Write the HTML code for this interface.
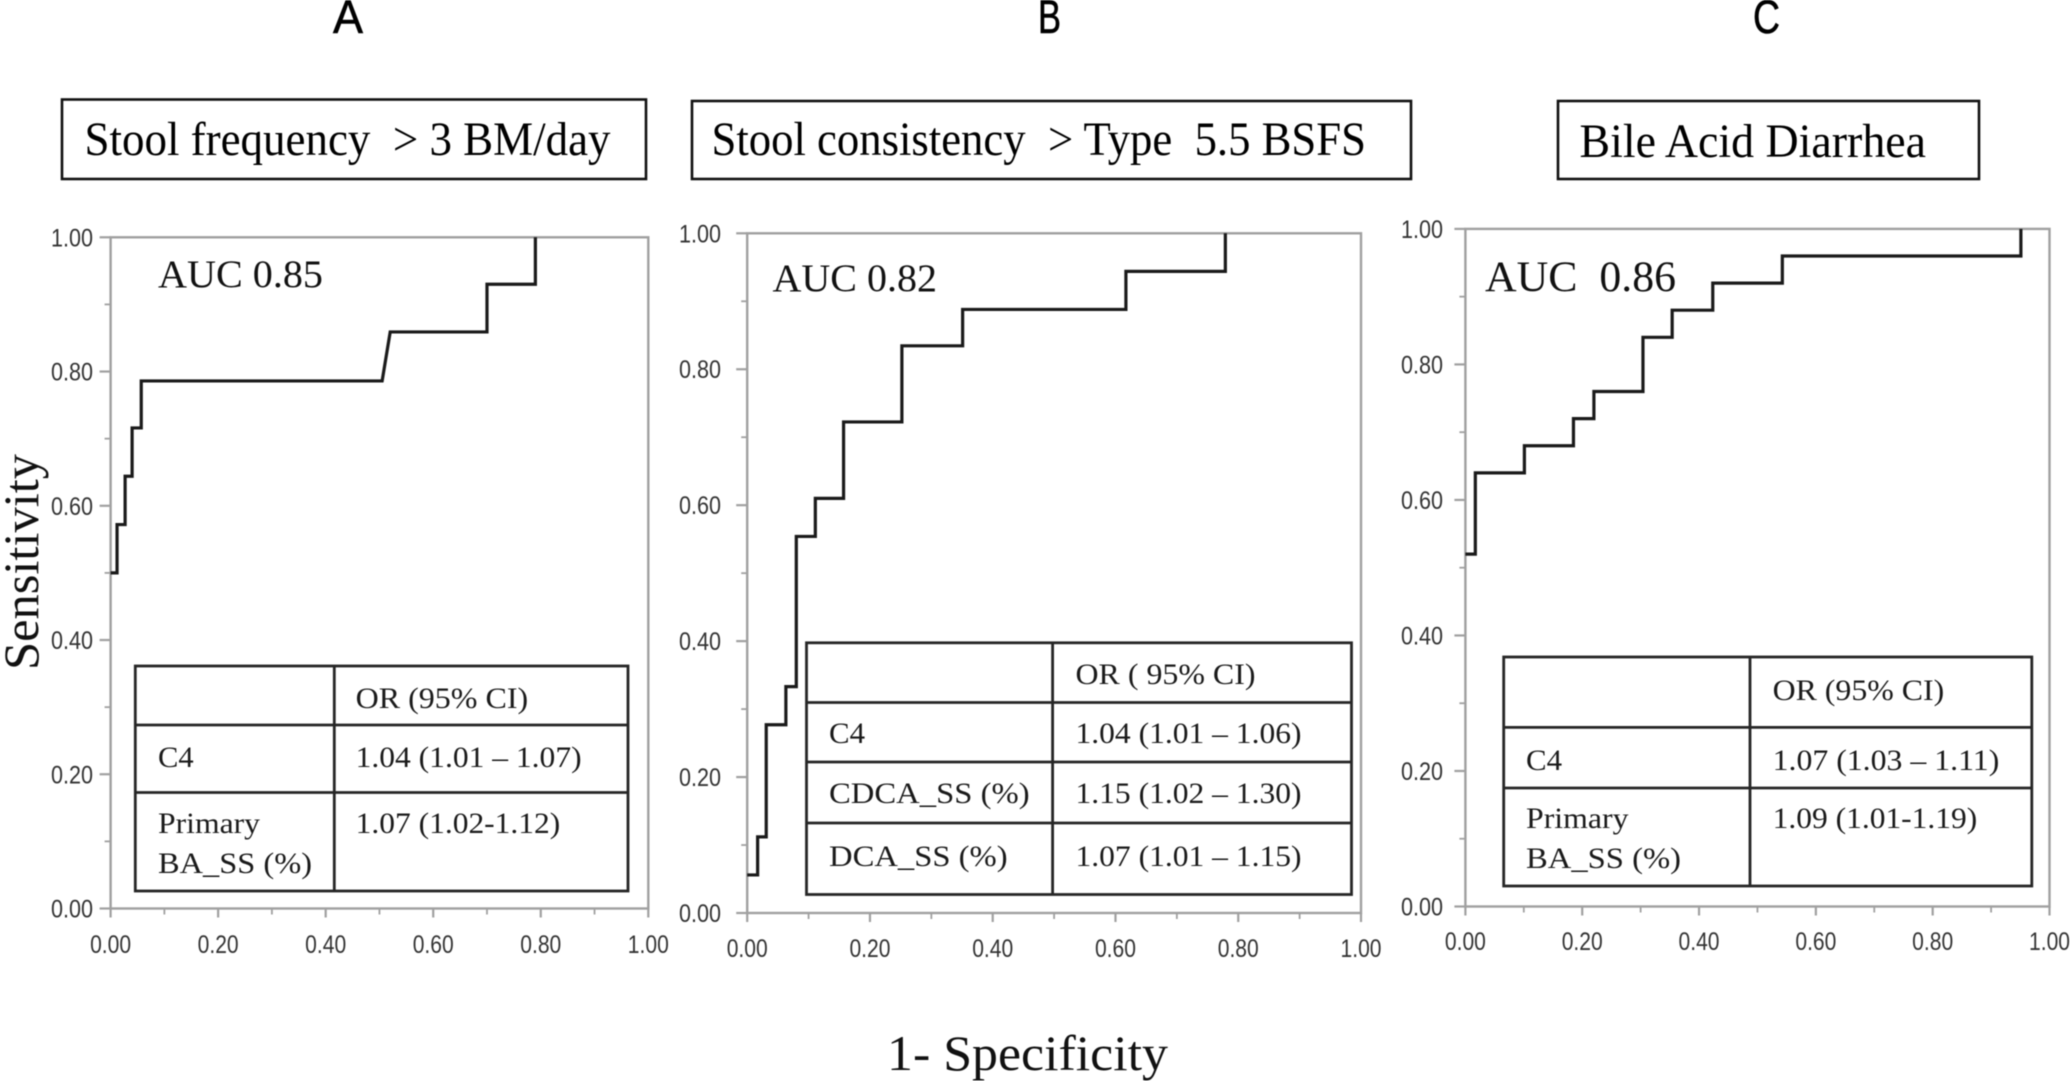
<!DOCTYPE html>
<html lang="en">
<head>
<meta charset="utf-8">
<title>ROC curves</title>
<style>
html,body{margin:0;padding:0;background:#fff;width:2070px;height:1081px;overflow:hidden}
svg{display:block;filter:blur(0.55px)}
text{white-space:pre}
.serif{font-family:"Liberation Serif",serif;fill:#111}
.sans{font-family:"Liberation Sans",sans-serif}
.cell{font-size:30px;fill:#1a1a1a}
.auc{font-size:39px}
.hdr{font-size:48px;fill:#000}
.letter{font-size:47px;fill:#000;stroke:#000;stroke-width:.6}
.tbl{fill:none;stroke:#262626;stroke-width:2.8}
.box{fill:#fff;stroke:#111;stroke-width:2.6}
</style>
</head>
<body>
<svg id="figure" xmlns="http://www.w3.org/2000/svg" width="2070" height="1081" viewBox="0 0 2070 1081">
  <rect width="2070" height="1081" fill="#fff"/>

  <text class="sans letter" x="333" y="33" textLength="30" lengthAdjust="spacingAndGlyphs">A</text>
  <text class="sans letter" x="1038" y="33" textLength="23" lengthAdjust="spacingAndGlyphs">B</text>
  <text class="sans letter" x="1753" y="33" textLength="27" lengthAdjust="spacingAndGlyphs">C</text>

  <g>
    <rect class="box" x="62" y="99.5" width="584" height="79.5"/>
    <text class="serif hdr" x="84.5" y="155" textLength="526" lengthAdjust="spacingAndGlyphs">Stool frequency  &gt; 3 BM/day</text>
  </g>
  <g>
    <rect class="box" x="692" y="101" width="719" height="78"/>
    <text class="serif hdr" x="711.5" y="155" textLength="654.5" lengthAdjust="spacingAndGlyphs">Stool consistency  &gt; Type  5.5 BSFS</text>
  </g>
  <g>
    <rect class="box" x="1558" y="101" width="421" height="78"/>
    <text class="serif hdr" x="1579.5" y="157" textLength="346.5" lengthAdjust="spacingAndGlyphs">Bile Acid Diarrhea</text>
  </g>

  <text class="serif" font-size="50" transform="translate(38,670) rotate(-90)" textLength="216" lengthAdjust="spacingAndGlyphs">Sensitivity</text>
  <text class="serif" font-size="50" x="887" y="1070" textLength="281" lengthAdjust="spacingAndGlyphs">1- Specificity</text>

  <g id="plots"></g>

  <g>
    <text class="serif auc" x="158" y="287" textLength="165" lengthAdjust="spacingAndGlyphs">AUC 0.85</text>
    <text class="serif auc" x="772.5" y="291" textLength="164.5" lengthAdjust="spacingAndGlyphs">AUC 0.82</text>
    <text class="serif auc" style="font-size:43px" x="1485" y="291" textLength="191" lengthAdjust="spacingAndGlyphs">AUC  0.86</text>
  </g>

  <g>
    <rect class="tbl" x="135.3" y="666" width="492.7" height="225" style="fill:#fff"/>
    <path class="tbl" d="M135.3 725H628M135.3 792.5H628M334.3 666V891"/>
    <text class="serif cell" x="355.6" y="708" textLength="172.6" lengthAdjust="spacingAndGlyphs">OR (95% CI)</text>
    <text class="serif cell" x="158" y="767" textLength="35.6" lengthAdjust="spacingAndGlyphs">C4</text>
    <text class="serif cell" x="355.6" y="767" textLength="226" lengthAdjust="spacingAndGlyphs">1.04 (1.01 – 1.07)</text>
    <text class="serif cell" x="158" y="833" textLength="102" lengthAdjust="spacingAndGlyphs">Primary</text>
    <text class="serif cell" x="158" y="873" textLength="154" lengthAdjust="spacingAndGlyphs">BA_SS (%)</text>
    <text class="serif cell" x="355.6" y="833" textLength="204.7" lengthAdjust="spacingAndGlyphs">1.07 (1.02-1.12)</text>
  </g>

  <g>
    <rect class="tbl" x="806.5" y="642.8" width="545" height="251.7" style="fill:#fff"/>
    <path class="tbl" d="M806.5 702.5H1351.5M806.5 762H1351.5M806.5 823H1351.5M1052.6 642.8V894.5"/>
    <text class="serif cell" x="1075.5" y="684" textLength="180" lengthAdjust="spacingAndGlyphs">OR ( 95% CI)</text>
    <text class="serif cell" x="829" y="743" textLength="36" lengthAdjust="spacingAndGlyphs">C4</text>
    <text class="serif cell" x="1075.5" y="743" textLength="226" lengthAdjust="spacingAndGlyphs">1.04 (1.01 – 1.06)</text>
    <text class="serif cell" x="829" y="803" textLength="200.6" lengthAdjust="spacingAndGlyphs">CDCA_SS (%)</text>
    <text class="serif cell" x="1075.5" y="803" textLength="226" lengthAdjust="spacingAndGlyphs">1.15 (1.02 – 1.30)</text>
    <text class="serif cell" x="829" y="866" textLength="178.6" lengthAdjust="spacingAndGlyphs">DCA_SS (%)</text>
    <text class="serif cell" x="1075.5" y="866" textLength="226" lengthAdjust="spacingAndGlyphs">1.07 (1.01 – 1.15)</text>
  </g>

  <g>
    <rect class="tbl" x="1503.7" y="657" width="528.1" height="229" style="fill:#fff"/>
    <path class="tbl" d="M1503.7 727.4H2031.8M1503.7 788H2031.8M1750 657V886"/>
    <text class="serif cell" x="1772.6" y="700" textLength="171.6" lengthAdjust="spacingAndGlyphs">OR (95% CI)</text>
    <text class="serif cell" x="1526" y="770" textLength="36" lengthAdjust="spacingAndGlyphs">C4</text>
    <text class="serif cell" x="1772.6" y="770" textLength="226.7" lengthAdjust="spacingAndGlyphs">1.07 (1.03 – 1.11)</text>
    <text class="serif cell" x="1526" y="828" textLength="102.5" lengthAdjust="spacingAndGlyphs">Primary</text>
    <text class="serif cell" x="1526" y="868" textLength="155" lengthAdjust="spacingAndGlyphs">BA_SS (%)</text>
    <text class="serif cell" x="1772.6" y="828" textLength="204.7" lengthAdjust="spacingAndGlyphs">1.09 (1.01-1.19)</text>
  </g>
</svg>

<script>
// Tick values and labels shared by all three ROC plots
var majorTicks = [0, 0.2, 0.4, 0.6, 0.8, 1];
var tickLabels = ["0.00", "0.20", "0.40", "0.60", "0.80", "1.00"];
var minorTicks = [0.1, 0.3, 0.5, 0.7, 0.9];

// Panel A: stool frequency
var fprA = [0, 0.012, 0.012, 0.027, 0.027, 0.04, 0.04, 0.057, 0.057, 0.505, 0.52, 0.70, 0.70, 0.79, 0.79];
var tprA = [0.50, 0.50, 0.572, 0.572, 0.644, 0.644, 0.716, 0.716, 0.786, 0.786, 0.859, 0.859, 0.93, 0.93, 1];

// Panel B: stool consistency
var fprB = [0, 0.017, 0.017, 0.031, 0.031, 0.063, 0.063, 0.08, 0.08, 0.111, 0.111, 0.157, 0.157, 0.252, 0.252, 0.351, 0.351, 0.617, 0.617, 0.779, 0.779];
var tprB = [0.056, 0.056, 0.112, 0.112, 0.277, 0.277, 0.333, 0.333, 0.554, 0.554, 0.61, 0.61, 0.7225, 0.7225, 0.8345, 0.8345, 0.888, 0.888, 0.944, 0.944, 1];

// Panel C: bile acid diarrhea
var fprC = [0, 0.017, 0.017, 0.101, 0.101, 0.185, 0.185, 0.22, 0.22, 0.304, 0.304, 0.354, 0.354, 0.4235, 0.4235, 0.5426, 0.5426, 0.951, 0.951];
var tprC = [0.52, 0.52, 0.64, 0.64, 0.68, 0.68, 0.72, 0.72, 0.76, 0.76, 0.84, 0.84, 0.88, 0.88, 0.92, 0.92, 0.96, 0.96, 1];

var SVGNS = "http://www.w3.org/2000/svg";
var plots = document.getElementById("plots");

function makeEl(tag, parent, attrs) {
  var el = document.createElementNS(SVGNS, tag);
  for (var k in attrs) { el.setAttribute(k, attrs[k]); }
  parent.appendChild(el);
  return el;
}

function drawPanel(id, frame, fpr, tpr) {
  var xScale = function (v) { return frame.left + v * (frame.right - frame.left); };
  var yScale = function (v) { return frame.bottom - v * (frame.bottom - frame.top); };
  var axisColor = "#a0a0a0";

  var group = makeEl("g", plots, {});
  
  

  var border = makeEl("rect", group, {
    x: frame.left, y: frame.top,
    width: frame.right - frame.left, height: frame.bottom - frame.top,
    fill: "#fff", stroke: axisColor, "stroke-width": 2.4
  });
  
  

  majorTicks.forEach(function (v, i) {
    var xt = makeEl("line", group, { x1: xScale(v), x2: xScale(v), y1: frame.bottom, y2: frame.bottom + 9, stroke: axisColor, "stroke-width": 2.2 });
    
    

    var yt = makeEl("line", group, { x1: frame.left - 11, x2: frame.left, y1: yScale(v), y2: yScale(v), stroke: axisColor, "stroke-width": 2.2 });
    
    

    var xl = makeEl("text", group, {
      x: xScale(v), y: frame.xLabelY, "text-anchor": "middle", "class": "sans",
      "font-size": 25, fill: "#333", textLength: 41, lengthAdjust: "spacingAndGlyphs"
    });
    xl.textContent = tickLabels[i];
    
    

    var yl = makeEl("text", group, {
      x: frame.yLabelX, y: yScale(v) + 9, "class": "sans",
      "font-size": 25, fill: "#333", textLength: 42, lengthAdjust: "spacingAndGlyphs"
    });
    yl.textContent = tickLabels[i];
    
    
  });

  minorTicks.forEach(function (v) {
    var xm = makeEl("line", group, { x1: xScale(v), x2: xScale(v), y1: frame.bottom, y2: frame.bottom + 6, stroke: axisColor, "stroke-width": 1.8 });
    
    

    var ym = makeEl("line", group, { x1: frame.left - 6, x2: frame.left, y1: yScale(v), y2: yScale(v), stroke: axisColor, "stroke-width": 1.8 });
    
    
  });

  var d = fpr.map(function (x, i) {
    return (i ? "L" : "M") + xScale(x).toFixed(2) + " " + yScale(tpr[i]).toFixed(2);
  }).join("");
  var curve = makeEl("path", group, { d: d, fill: "none", stroke: "#1a1a1a", "stroke-width": 3.2, "stroke-linejoin": "miter" });
  
  
}

drawPanel("a", { left: 110.6, right: 648.3, top: 237.3, bottom: 908.5, xLabelY: 953, yLabelX: 51 }, fprA, tprA);
drawPanel("b", { left: 747.2, right: 1361, top: 233.3, bottom: 913, xLabelY: 957, yLabelX: 679 }, fprB, tprB);
drawPanel("c", { left: 1465.4, right: 2049.5, top: 228.9, bottom: 906.5, xLabelY: 950, yLabelX: 1401 }, fprC, tprC);
</script>
</body>
</html>
